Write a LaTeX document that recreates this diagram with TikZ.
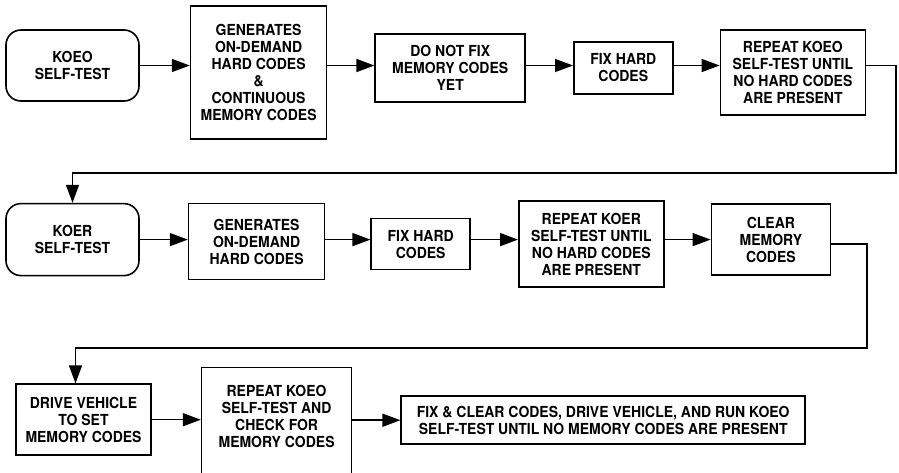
\documentclass[tikz,border=0pt]{standalone}
\usepackage{fontspec}
\setmainfont{TeX Gyre Heros}[FakeStretch=0.92]
\usetikzlibrary{positioning,arrows.meta}

\tikzset{
  block/.style={draw, line width=1.6pt, align=center, inner sep=3pt,
    font=\fontsize{15.2}{17}\selectfont\bfseries},
  test/.style={block, rounded corners=15pt, minimum width=133pt, minimum height=71pt},
  flow/.style={line width=1.5pt, -{Triangle[length=18pt,width=13pt]}}
}

\begin{document}
\begin{tikzpicture}[x=1pt,y=-1pt,node distance=47pt]
    \useasboundingbox (0,0) rectangle (899,472);
    \clip (0,0) rectangle (899,472);

    % key on, engine off
    \node[test]  (koeo)  at (72.5,65.5) {KOEO\\SELF-TEST};
    \node[block,minimum width=136pt,minimum height=133pt] (gen_1) [right=50pt of koeo,yshift=-7pt]
        {GENERATES\\ON-DEMAND\\HARD CODES\\\&\\CONTINUOUS\\MEMORY CODES};
    \node[block,minimum width=150pt,minimum height=68pt]  (nofix) [right=of gen_1,yshift=4.5pt]
        {DO NOT FIX\\MEMORY CODES\\YET};
    \node[block,minimum width=99pt,minimum height=52pt]   (fix_1) [right=of nofix]
        {FIX HARD\\CODES};
    \node[block,minimum width=145pt,minimum height=85pt]  (rep_1) [right=46pt of fix_1,yshift=-4.5pt]
        {REPEAT KOEO\\SELF-TEST UNTIL\\NO HARD CODES\\ARE PRESENT};

    % key on, engine running
    \node[test,minimum height=72pt] (koer) [below=101pt of koeo] {KOER\\SELF-TEST};
    \node[block,minimum width=136pt,minimum height=76pt]  (gen_2) [right=48pt of koer,yshift=-2pt]
        {GENERATES\\ON-DEMAND\\HARD CODES};
    \node[block,minimum width=99pt,minimum height=51pt]   (fix_2) [right=45pt of gen_2,yshift=-2.5pt]
        {FIX HARD\\CODES};
    \node[block,minimum width=145pt,minimum height=86pt]  (rep_2) [right=of fix_2]
        {REPEAT KOER\\SELF-TEST UNTIL\\NO HARD CODES\\ARE PRESENT};
    \node[block,minimum width=119pt,minimum height=71pt]  (clear) [right=46pt of rep_2,yshift=4.5pt]
        {CLEAR\\MEMORY\\CODES};

    % continuous memory codes
    \node[block,minimum width=135pt,minimum height=71pt]  (drive) [below=107pt of koer,xshift=11pt]
        {DRIVE VEHICLE\\TO SET\\MEMORY CODES};
    \node[block,minimum width=150pt,inner ysep=18pt]      (check) [right=49pt of drive,yshift=-10.5pt]
        {REPEAT KOEO\\SELF-TEST AND\\CHECK FOR\\MEMORY CODES\\[10pt]\mbox{}};
    \node[block,minimum width=404pt,minimum height=48pt]  (final) [right=48pt of check,yshift=10pt]
        {FIX \& CLEAR CODES, DRIVE VEHICLE, AND RUN KOEO\\SELF-TEST UNTIL NO MEMORY CODES ARE PRESENT};

    \coordinate (bend_1) at (896,173);
    \coordinate (bend_2) at (867,348);

    \draw[flow] (koeo) -- (koeo -| gen_1.west);
    \draw[flow] (gen_1.east |- koeo) -- (koeo -| nofix.west);
    \draw[flow] (nofix.east |- koeo) -- (koeo -| fix_1.west);
    \draw[flow] (fix_1.east |- koeo) -- (koeo -| rep_1.west);
    \draw[flow] (rep_1.east |- koeo) -| (bend_1) -| (koer.north);

    \draw[flow] (koer) -- (koer -| gen_2.west);
    \draw[flow] (gen_2.east |- koer) -- (koer -| fix_2.west);
    \draw[flow] (fix_2.east |- koer) -- (koer -| rep_2.west);
    \draw[flow] (rep_2.east |- koer) -- (koer -| clear.west);
    \draw[flow] (clear.east |- fix_2) -| (bend_2) -| ([xshift=-8pt]drive.north);

    \draw[flow] (drive) -- (drive -| check.west);
    \draw[flow] (check.east |- final) -- (final);
\end{tikzpicture}
\end{document}
